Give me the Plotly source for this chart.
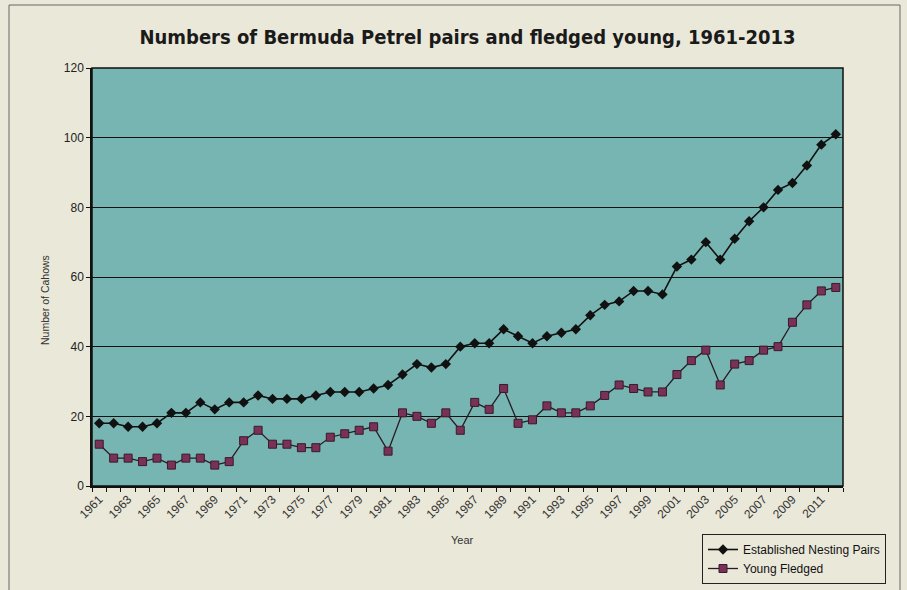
import plotly.graph_objects as go

years = list(range(1961, 2013))
nesting_pairs = [18, 18, 17, 17, 18, 21, 21, 24, 22, 24, 24, 26, 25, 25, 25, 26, 27, 27, 27,
                 28, 29, 32, 35, 34, 35, 40, 41, 41, 45, 43, 41, 43, 44, 45, 49, 52, 53, 56,
                 56, 55, 63, 65, 70, 65, 71, 76, 80, 85, 87, 92, 98, 101]
young_fledged = [12, 8, 8, 7, 8, 6, 8, 8, 6, 7, 13, 16, 12, 12, 11, 11, 14, 15, 16,
                 17, 10, 21, 20, 18, 21, 16, 24, 22, 28, 18, 19, 23, 21, 21, 23, 26, 29, 28,
                 27, 27, 32, 36, 39, 29, 35, 36, 39, 40, 47, 52, 56, 57]
tick_years = list(range(1961, 2013, 2))
tick_labels = [str(y) for y in tick_years]

W, H = 907, 590
L, R, T, B = 92, 64, 68, 104
pw, ph = W - L - R, H - T - B

def px_to_paper_x(px):
    return (px - L) / pw

def px_to_paper_y(py):
    return (H - B - py) / ph

fig = go.Figure()
fig.add_trace(go.Scatter(
    x=years, y=nesting_pairs, name="Established Nesting Pairs", mode="lines+markers",
    line=dict(color="#111111", width=1.6),
    marker=dict(symbol="diamond", size=8, color="#111111"),
))
fig.add_trace(go.Scatter(
    x=years, y=young_fledged, name="Young Fledged", mode="lines+markers",
    line=dict(color="#2a1a24", width=1.3),
    marker=dict(symbol="square", size=8, color="#7a3157", line=dict(color="#3a1a2a", width=1)),
))

fig.update_layout(
    width=W, height=H,
    margin=dict(l=L, r=R, t=T, b=B, autoexpand=False),
    paper_bgcolor="#eae8d9",
    plot_bgcolor="#77b5b2",
    font=dict(family="Liberation Sans, Arial, sans-serif", size=10, color="#222222"),
    title=dict(
        text="<b>Numbers of Bermuda Petrel pairs and fledged young, 1961-2013</b>",
        x=0.5, xref="paper", xanchor="center", y=1 - 37 / H, yanchor="middle",
        font=dict(family="DejaVu Sans Condensed, Liberation Sans Narrow, sans-serif", size=20, color="#1a1a1a"),
    ),
    showlegend=True,
    legend=dict(
        x=px_to_paper_x(886), xanchor="right", y=px_to_paper_y(534), yanchor="top",
        bgcolor="rgba(0,0,0,0)", bordercolor="#222222", borderwidth=1,
        font=dict(family="Liberation Sans, Arial, sans-serif", size=12, color="#111111"),
        tracegroupgap=0, itemwidth=30,
    ),
    xaxis=dict(
        range=[1960.5, 2012.5], tickmode="array", tickvals=tick_years, ticktext=tick_labels,
        tickangle=-45, ticks="", showgrid=False, zeroline=False, automargin=False,
        showline=True, linecolor="#111111", linewidth=1.5, mirror=False,
        tickfont=dict(size=12, color="#333333"),
        minor=dict(ticks="outside", tick0=1960.5, dtick=1, ticklen=4, tickcolor="#111111", showgrid=False),
    ),
    yaxis=dict(
        range=[0, 120], dtick=20, ticks="outside", ticklen=4, tickcolor="#111111",
        showgrid=True, gridcolor="#111111", gridwidth=1.3, zeroline=False, automargin=False,
        showline=True, linecolor="#111111", linewidth=1.5,
        tickfont=dict(size=12, color="#222222"),
    ),
    annotations=[
        dict(text="Number of Cahows", xref="paper", yref="paper",
             x=px_to_paper_x(45), y=px_to_paper_y(300), textangle=-90,
             showarrow=False, xanchor="center", yanchor="middle",
             font=dict(size=10.5, color="#333333")),
        dict(text="Year", xref="paper", yref="paper",
             x=px_to_paper_x(462), y=px_to_paper_y(540),
             showarrow=False, xanchor="center", yanchor="middle",
             font=dict(size=11, color="#333333")),
    ],
)

# plot area top / right border and outer frame
fig.add_shape(type="rect", xref="paper", yref="paper", x0=0, x1=1, y0=0, y1=1,
              line=dict(color="#111111", width=1.5), layer="above")
fig.add_shape(type="rect", xref="paper", yref="paper",
              x0=px_to_paper_x(9), x1=px_to_paper_x(900),
              y0=px_to_paper_y(600), y1=px_to_paper_y(5),
              line=dict(color="#666666", width=1), layer="below")

fig.write_html("out.html", config={"displayModeBar": False},
               post_script="document.body.style.margin='0';")
